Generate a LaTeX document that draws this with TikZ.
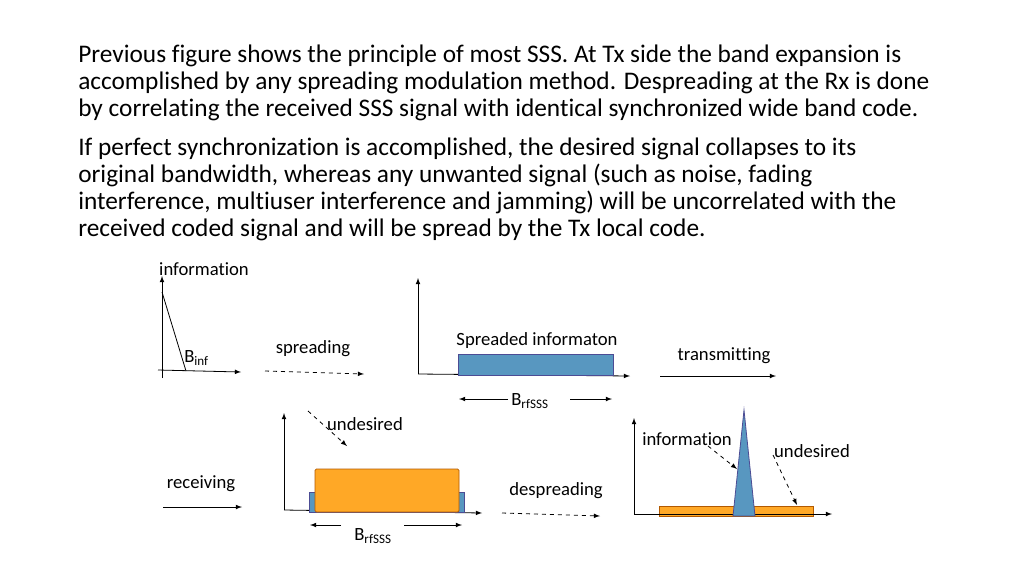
\documentclass[tikz,border=0pt]{standalone}
\usepackage{fontspec}
\setmainfont[RawFeature={-liga;-clig}]{Carlito}
\begin{document}
\begin{tikzpicture}[x=0.75pt,y=-0.75pt,
  ax/.style={-latex,line width=0.6pt},
  dsh/.style={-latex,dashed,line width=0.6pt},
  lbl/.style={font=\fontsize{14}{16}\selectfont,inner sep=0pt},
  orbar/.style={draw=orange!70!black,fill=orange!80!yellow!85,rounded corners=1pt,line width=0.6pt}]
\useasboundingbox (0,0) rectangle (1024,576);
\node[anchor=north west,align=left,inner sep=0pt,font=\fontsize{19}{20.25}\selectfont] (p1) at (78,45) {Previous figure shows the principle of most SSS. At Tx side the band expansion is\\accomplished by any spreading modulation method. Despreading at the Rx is done\\by correlating the received SSS signal with identical synchronized wide band code.};
\node[anchor=north west,align=left,inner sep=0pt,font=\fontsize{19}{20.25}\selectfont] (p2) at (78,138) {If perfect synchronization is accomplished, the desired signal collapses to its\\original bandwidth, whereas any unwanted signal (such as noise, fading\\interference, multiuser interference and jamming) will be uncorrelated with the\\received coded signal and will be spread by the Tx local code.};
% graph 1
\node[lbl] (info1) at (204,269) {information};
\draw[ax] (162,378) -- (162,276);
\draw[ax] (158,370) -- (241,372);
\draw[line width=0.6pt] (162,292) -- (186,371);
\node[lbl,anchor=west] (binf) at (184,358) {B\textsubscript{inf}};
\node[lbl] (spr) at (313,349) {spreading};
\draw[dsh] (265,371) -- (364,374);
% graph 2
\draw[ax] (418,374) -- (418,278);
\draw[ax] (418,374) -- (630,376);
\fill[blue!40!cyan!45!gray!90] (458,354) rectangle (613,375);
\draw[blue!40!black!70,line width=0.6pt] (458,354) rectangle (613,375);
\node[lbl] (sinfo) at (537,341) {Spreaded informaton};
\node[lbl] (bw2) at (530,401) {B\textsubscript{rfSSS}};
\draw[ax] (508,399) -- (459,399);
\draw[ax] (570,399) -- (612,399);
\node[lbl] (tr) at (724,356) {transmitting};
\draw[ax] (660,376) -- (776,376);
% graph 3
\draw[ax] (284,510) -- (284,413);
\draw[ax] (284,510) -- (482,513);
\fill[blue!40!cyan!45!gray!90] (309,492) rectangle (464,512);
\draw[blue!40!black!70,line width=0.6pt] (309,492) rectangle (464,512);
\draw[orbar] (315,469) rectangle (459,512);
\node[lbl] (und3) at (365,424) {undesired};
\draw[dsh] (308,411) -- (347,446);
\node[lbl] (rec) at (201,484) {receiving};
\draw[ax] (163,507) -- (242,507);
\node[lbl] (bw3) at (373,536) {B\textsubscript{rfSSS}};
\draw[ax] (341,525) -- (310,525);
\draw[ax] (404,525) -- (462,525);
\node[lbl] (desp) at (556,491) {despreading};
\draw[dsh] (502,513) -- (600,516);
% graph 4
\draw[ax] (634,514) -- (634,418);
\draw[orbar,rounded corners=0pt] (659,506) rectangle (813,516);
\draw[ax] (634,514) -- (832,514);
\fill[blue!40!cyan!45!gray!90,draw=blue!40!black!70,line width=0.6pt] (733,516) -- (744,410) -- (755,516) -- cycle;
\node[lbl] (info4) at (687,439) {information};
\draw[dsh] (708,446) -- (737,469);
\node[lbl] (und4) at (812,451) {undesired};
\draw[dsh] (773,455) -- (797,505);
\end{tikzpicture}
\end{document}
